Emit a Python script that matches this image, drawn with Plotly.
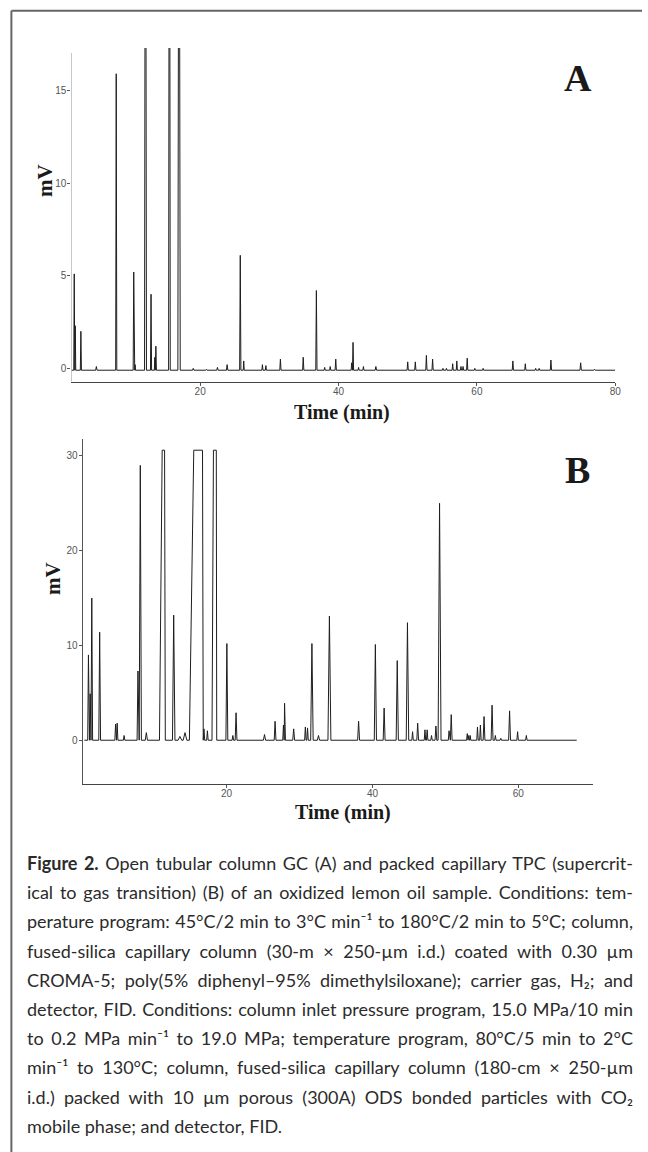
import json
import plotly.graph_objects as go

W, H = 648, 1152

# ---------------- Panel A data (GC) ----------------
a_times = [1.8, 1.95, 2.76, 5.0, 7.87, 10.4, 10.6, 12.1, 12.9, 13.45, 13.6, 15.56, 16.95,
           19.0, 20.9, 22.5, 23.9, 25.8, 26.3, 29.0, 29.5, 31.6, 34.9, 36.8, 38.0, 38.8,
           39.6, 41.9, 42.1, 42.9, 43.6, 45.4, 50.0, 51.1, 52.7, 53.6, 55.1, 55.6, 56.5,
           57.1, 57.7, 58.0, 58.6, 59.7, 60.9, 65.2, 67.0, 68.5, 69.0, 70.7, 75.0, 77.0]
a_heights = [5.2, 2.4, 2.1, 0.2, 16.0, 5.3, 0.3, 40.0, 4.1, 0.7, 1.3, 40.0, 40.0,
             0.1, 0.05, 0.15, 0.3, 6.2, 0.5, 0.3, 0.25, 0.6, 0.7, 4.3, 0.15, 0.2,
             0.6, 0.4, 1.5, 0.15, 0.2, 0.2, 0.45, 0.45, 0.8, 0.6, 0.1, 0.1, 0.35,
             0.5, 0.2, 0.2, 0.65, 0.1, 0.1, 0.5, 0.35, 0.1, 0.1, 0.55, 0.4, 0.05]
a_widths = [0.14, 0.14, 0.16, 0.2, 0.16, 0.16, 0.12, 0.28, 0.16, 0.14, 0.16, 0.24, 0.34,
            0.2, 0.2, 0.2, 0.2, 0.18, 0.14, 0.16, 0.16, 0.18, 0.18, 0.18, 0.16, 0.16,
            0.18, 0.14, 0.16, 0.16, 0.16, 0.2, 0.18, 0.18, 0.18, 0.18, 0.16, 0.16, 0.16,
            0.16, 0.16, 0.16, 0.18, 0.16, 0.16, 0.18, 0.18, 0.16, 0.16, 0.18, 0.2, 0.2]
a_baseline = -0.1
a_start, a_end = 1.4, 80.0

# ---------------- Panel B data (packed capillary TPC) ----------------
b_times = [1.06, 1.3, 1.52, 2.6, 4.78, 5.0, 5.95, 7.85, 8.17, 9.0, 12.75, 13.6, 14.3,
           16.9, 17.37, 20.04, 20.86, 21.3, 25.2, 26.65, 27.8, 27.95, 29.2, 30.8, 31.1,
           31.7, 32.6, 34.1, 38.1, 40.4, 41.6, 43.4, 44.8, 45.5, 46.2, 47.2, 47.5, 48.1,
           48.7, 49.2, 50.5, 50.8, 53.0, 53.2, 53.4, 54.4, 54.8, 55.3, 56.4, 56.85, 57.6,
           58.8, 59.9, 61.1]
b_heights = [9.0, 4.9, 15.0, 11.4, 1.7, 1.8, 0.5, 7.3, 29.0, 0.8, 13.2, 0.4, 0.8,
             1.2, 1.0, 10.2, 0.5, 2.9, 0.6, 2.0, 1.6, 3.9, 1.2, 1.4, 1.3,
             10.2, 0.5, 13.1, 2.0, 10.1, 3.4, 8.4, 12.4, 0.9, 1.8, 1.1, 1.1, 0.5,
             1.5, 25.0, 1.0, 2.7, 0.7, 0.5, 0.5, 1.4, 1.6, 2.5, 3.7, 0.5, 0.2,
             3.1, 0.9, 0.5]
b_widths = [0.2, 0.2, 0.22, 0.24, 0.2, 0.2, 0.2, 0.24, 0.3, 0.3, 0.34, 0.5, 0.5,
            0.2, 0.2, 0.26, 0.2, 0.24, 0.3, 0.24, 0.2, 0.24, 0.26, 0.2, 0.2,
            0.34, 0.3, 0.4, 0.26, 0.3, 0.26, 0.3, 0.34, 0.2, 0.24, 0.2, 0.2, 0.2,
            0.24, 0.4, 0.2, 0.24, 0.2, 0.16, 0.16, 0.2, 0.2, 0.24, 0.26, 0.2, 0.2,
            0.26, 0.2, 0.2]
# detector-saturated (flat-topped) peaks in B
b_sat_rise = [10.8, 14.9, 18.0]
b_sat_top_start = [11.17, 15.5, 18.2]
b_sat_top_end = [11.5, 16.7, 18.59]
b_sat_fall = [11.6, 16.8, 18.65]
b_sat_level = 30.6
b_baseline = 0.0
b_start, b_end = 0.5, 68.0

# ---------------- Axis ticks ----------------
a_xticks = [20, 40, 60, 80]
a_yticks = [0, 5, 10, 15]
b_xticks = [20, 40, 60]
b_yticks = [0, 10, 20, 30]

caption_lines = [
    "<b>Figure 2.</b> Open tubular column GC (A) and packed capillary TPC (supercrit-",
    "ical to gas transition) (B) of an oxidized lemon oil sample. Conditions: tem-",
    "perature program: 45°C/2 min to 3°C min⁻¹ to 180°C/2 min to 5°C; column,",
    "fused-silica capillary column (30-m × 250-µm i.d.) coated with 0.30 µm",
    "CROMA-5; poly(5% diphenyl–95% dimethylsiloxane); carrier gas, H₂; and",
    "detector, FID. Conditions: column inlet pressure program, 15.0 MPa/10 min",
    "to 0.2 MPa min⁻¹ to 19.0 MPa; temperature program, 80°C/5 min to 2°C",
    "min⁻¹ to 130°C; column, fused-silica capillary column (180-cm × 250-µm",
    "i.d.) packed with 10 µm porous (300A) ODS bonded particles with CO₂",
    "mobile phase; and detector, FID.",
]


def build_trace(times, heights, widths, base, t0, t1, sat=None):
    shapes = []
    for t, h, w in zip(times, heights, widths):
        shapes.append((t - w / 2, t, t, t + w / 2, h))
    if sat:
        for r, s, e, f in zip(*sat[:4]):
            shapes.append((r, s, e, f, sat[4]))
    shapes.sort(key=lambda s: s[1])
    xs, ys = [t0], [base]
    for l, s, e, r, h in shapes:
        l = max(l, xs[-1])
        xs += [l, s]
        ys += [base, base + h]
        if e > s:
            xs.append(e)
            ys.append(base + h)
        xs.append(r)
        ys.append(base)
    xs.append(t1)
    ys.append(base)
    return xs, ys


ax, ay = build_trace(a_times, a_heights, a_widths, a_baseline, a_start, a_end)
bx, by = build_trace(b_times, b_heights, b_widths, b_baseline, b_start, b_end,
                     sat=(b_sat_rise, b_sat_top_start, b_sat_top_end, b_sat_fall, b_sat_level))

fig = go.Figure()
fig.add_trace(go.Scatter(x=ax, y=ay, mode="lines", line=dict(color="#1e1e1e", width=1),
                         xaxis="x", yaxis="y", hoverinfo="skip", showlegend=False))
fig.add_trace(go.Scatter(x=bx, y=by, mode="lines", line=dict(color="#1e1e1e", width=1),
                         xaxis="x2", yaxis="y2", hoverinfo="skip", showlegend=False))


def px_x(p):
    return p / W


def px_y(p):
    return 1 - p / H


tickfont = dict(family="Liberation Sans, Arial, sans-serif", size=10, color="#555")
axis_common = dict(showgrid=False, zeroline=False, ticks="outside", ticklen=3,
                   tickcolor="#555", tickwidth=1, tickfont=tickfont, fixedrange=True)

a_xrange = [1.38, 80]
a_yrange = [-0.72, 17.29]
b_xrange = [0.25, 70.3]
b_yrange = [-4.65, 31.75]

fig.update_layout(
    width=W, height=H, margin=dict(l=0, r=0, t=0, b=0),
    paper_bgcolor="white", plot_bgcolor="white",
    xaxis=dict(domain=[px_x(72), px_x(621)], range=a_xrange, anchor="y",
               tickvals=a_xticks, showline=True, linecolor="#444", linewidth=1,
               ticklabelstandoff=-3, **axis_common),
    yaxis=dict(domain=[px_y(381.7), px_y(48)], range=a_yrange, anchor="x",
               tickvals=a_yticks, showline=False, ticklabelstandoff=-1, **axis_common),
    xaxis2=dict(domain=[px_x(83.3), px_x(599)], range=b_xrange, anchor="y2",
                tickvals=b_xticks, showline=True, linecolor="#444", linewidth=1,
                ticklabelstandoff=-3, **axis_common),
    yaxis2=dict(domain=[px_y(784.3), px_y(439.3)], range=b_yrange, anchor="x2",
                tickvals=b_yticks, showline=True, linecolor="#555", linewidth=1,
                ticklabelstandoff=-1, **axis_common),
)

shapes = [
    # panel A y-axis line (stops short of clipped peaks)
    dict(type="line", xref="x", yref="y", x0=a_xrange[0], x1=a_xrange[0],
         y0=a_yrange[0], y1=17.02, line=dict(color="#9a9a9a", width=1)),
    # outer frame (top and left)
    dict(type="line", xref="paper", yref="paper", x0=px_x(11.5), x1=1.0,
         y0=px_y(10.7), y1=px_y(10.7), line=dict(color="#666", width=2)),
    dict(type="line", xref="paper", yref="paper", x0=px_x(11.5), x1=px_x(11.5),
         y0=0, y1=px_y(10.7), line=dict(color="#666", width=2)),
]
fig.update_layout(shapes=shapes)

serif = "Liberation Serif, Times New Roman, serif"
ann = []
ann.append(dict(text="<b>mV</b>", x=px_x(45.5), y=px_y(181), textangle=-90,
                font=dict(family=serif, size=21, color="#1a1a1a")))
ann.append(dict(text="<b>mV</b>", x=px_x(53.5), y=px_y(579), textangle=-90,
                font=dict(family=serif, size=21, color="#1a1a1a")))
ann.append(dict(text="<b>A</b>", x=px_x(583.5), y=px_y(78),
                font=dict(family=serif, size=38, color="#1a1a1a")))
ann.append(dict(text="<b>B</b>", x=px_x(583), y=px_y(470),
                font=dict(family=serif, size=38, color="#1a1a1a")))
ann.append(dict(text="<b>Time (min)</b>", x=px_x(345), y=px_y(412.5),
                font=dict(family=serif, size=20, color="#1a1a1a")))
ann.append(dict(text="<b>Time (min)</b>", x=px_x(346), y=px_y(812.5),
                font=dict(family=serif, size=20, color="#1a1a1a")))
for a in ann:
    a.update(xref="paper", yref="paper", showarrow=False, xanchor="center", yanchor="middle")

cap_first = len(ann)
for i, line in enumerate(caption_lines):
    ann.append(dict(text=line, x=px_x(25), y=px_y(863 + 29.2 * i), xref="paper", yref="paper",
                    showarrow=False, xanchor="left", yanchor="middle", align="left",
                    font=dict(family="Lato, Liberation Sans, sans-serif", size=18, color="#2b2b2b")))
fig.update_layout(annotations=ann)

justify_idx = list(range(cap_first, cap_first + len(caption_lines) - 1))
post = """
document.body.style.margin = '0';
document.body.style.padding = '0';
var gd = document.getElementById('{plot_id}');
var idx = %s;
var target = %f;
idx.forEach(function(i){
  var g = gd.querySelector('g.annotation[data-index="' + i + '"]');
  if(!g) return;
  var t = g.querySelector('text.annotation-text');
  if(!t) return;
  var n = (t.textContent.match(/ /g) || []).length;
  if(n > 0){
    var r = t.getBoundingClientRect();
    var ws = (target - r.left - r.width) / n;
    t.style.wordSpacing = ws + 'px';
  }
});
""" % (json.dumps(justify_idx), 633.0)

fig.write_html("out.html", post_script=post, config={"displayModeBar": False})
